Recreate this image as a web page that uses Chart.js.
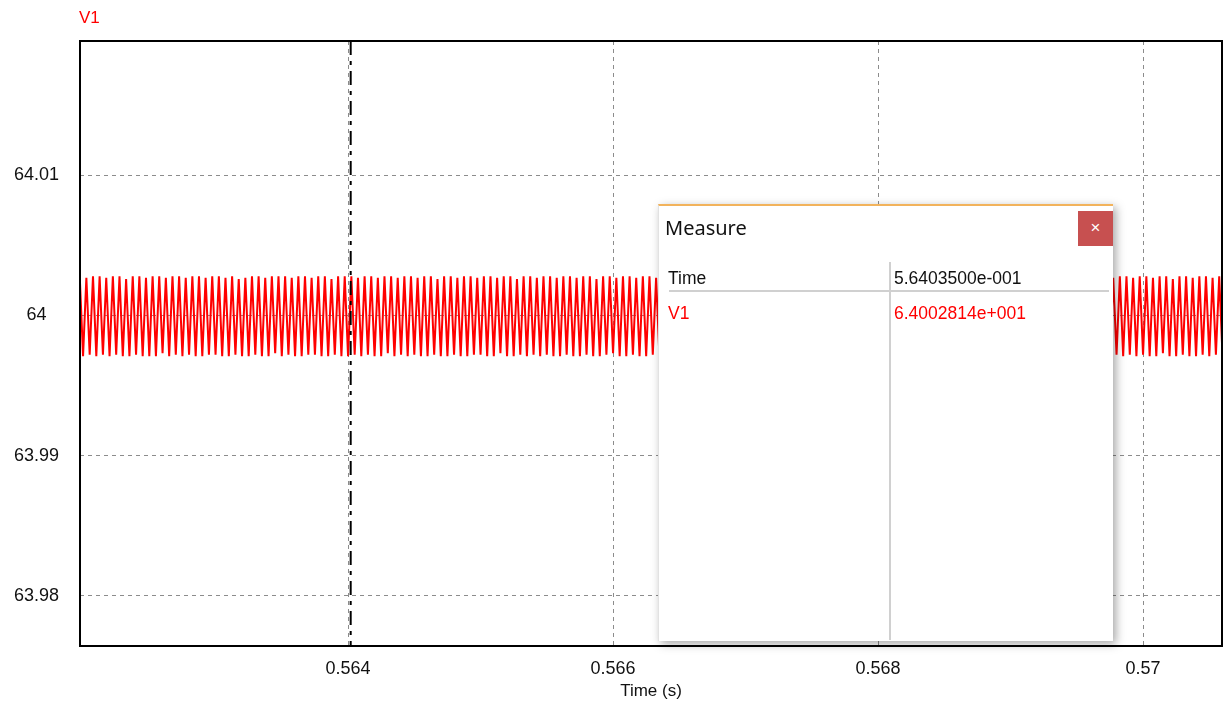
<!doctype html>
<html lang="en">

<head>
    <meta charset="utf-8">
    <title>V1 waveform</title>
    <style>
        body { margin: 0; background: #fff; }
        #container { position: relative; width: 1229px; height: 704px; }
        #measure { position: absolute; left: 658px; top: 204px; width: 455px; height: 437px; background: #fff;
            border-top: 2px solid #f2b35c; border-left: 1px solid #e2e2e2; box-sizing: border-box;
            box-shadow: 3px 3px 9px rgba(0, 0, 0, 0.35); font-family: "Liberation Sans", Arial, sans-serif; }
        #measure .title { position: absolute; left: 6px; top: 9px; line-height: 26px; font-family: "Noto Sans", sans-serif; font-size: 20px; color: #111; }
        #measure .close { position: absolute; left: 419px; top: 5px; width: 35px; height: 35px; background: #c75050; color: #fff;
            font-size: 17px; line-height: 34px; text-align: center; }
        #measure .cell { position: absolute; font-size: 17.5px; line-height: 20px; color: #111; white-space: nowrap; }
        #measure .red { color: #ff0000; }
        #measure .hsep { position: absolute; left: 10px; top: 84px; width: 440px; height: 2px; background: #d0d0d0; }
        #measure .vsep { position: absolute; left: 230px; top: 56px; width: 2px; height: 378px; background: #d0d0d0; }
    </style>
</head>

<body>
    <div id="container">
        <canvas id="chart"></canvas>
        <div id="measure">
            <div class="title">Measure</div>
            <div class="close">×</div>
            <div class="vsep"></div>
            <div class="cell" style="left:9px;top:62px">Time</div>
            <div class="cell" id="mTime" style="left:235px;top:62px"></div>
            <div class="hsep"></div>
            <div class="cell red" style="left:9px;top:97px">V1</div>
            <div class="cell red" id="mValue" style="left:235px;top:97px"></div>
        </div>
    </div>

    <script src="https://cdn.jsdelivr.net/npm/chart.js@4/dist/chart.umd.min.js"></script>
    <script>
        const SERIES_NAME = "V1";
        const X_TICKS = [0.564, 0.566, 0.568, 0.57];
        const Y_TICKS = [63.98, 63.99, 64, 64.01];
        const X_RANGE = [0.561977, 0.570596];
        const Y_RANGE = [63.9764, 64.0196];
        const CURSOR_T = 0.564035;
        const CURSOR_TEXT = ["5.6403500e-001", "6.4002814e+001"];
        // sample time base of the V1 trace (s)
        const T_START = 0.561975;
        const T_STEP = 0.000025;
        // V1 samples (V), ripple peaks
        const V1 = [
            64.0028, 63.9971, 64.0027, 63.9972, 64.0028, 63.9971, 64.0028, 63.9972, 64.0027, 63.9971,
            64.0028, 63.9972, 64.0028, 63.9971, 64.0026, 63.9971, 64.0028, 63.9972, 64.0028, 63.9971,
            64.0027, 63.9971, 64.0028, 63.9971, 64.0028, 63.9973, 64.0027, 63.9971, 64.0028, 63.9972,
            64.0028, 63.9971, 64.0027, 63.9972, 64.0028, 63.9971, 64.0028, 63.9971, 64.0027, 63.9972,
            64.0028, 63.9972, 64.0028, 63.9971, 64.0027, 63.9971, 64.0028, 63.9972, 64.0026, 63.9971,
            64.0027, 63.9971, 64.0028, 63.9972, 64.0028, 63.9971, 64.0027, 63.9971, 64.0028, 63.9973,
            64.0028, 63.9971, 64.0028, 63.9972, 64.0027, 63.9971, 64.0028, 63.9971, 64.0028, 63.9972,
            64.0027, 63.9972, 64.0028, 63.9971, 64.0028, 63.9971, 64.0026, 63.9972, 64.0028, 63.9971,
            64.0028, 63.9971, 64.0028, 63.9972, 64.0027, 63.9971, 64.0028, 63.9972, 64.0028, 63.9971,
            64.0027, 63.9971, 64.0028, 63.9973, 64.0028, 63.9971, 64.0027, 63.9972, 64.0028, 63.9971,
            64.0028, 63.9972, 64.0027, 63.9971, 64.0028, 63.9971, 64.0028, 63.9972, 64.0026, 63.9971,
            64.0028, 63.9971, 64.0028, 63.9972, 64.0027, 63.9971, 64.0028, 63.9971, 64.0028, 63.9972,
            64.0027, 63.9972, 64.0028, 63.9971, 64.0028, 63.9971, 64.0027, 63.9973, 64.0028, 63.9971,
            64.0028, 63.9971, 64.0026, 63.9972, 64.0028, 63.9971, 64.0028, 63.9972, 64.0027, 63.9971,
            64.0028, 63.9972, 64.0028, 63.9971, 64.0027, 63.9971, 64.0028, 63.9972, 64.0028, 63.9971,
            64.0027, 63.9971, 64.0028, 63.9972, 64.0028, 63.9971, 64.0026, 63.9971, 64.0028, 63.9972,
            64.0028, 63.9973, 64.0027, 63.9971, 64.0028, 63.9971, 64.0028, 63.9972, 64.0027, 63.9971,
            64.0028, 63.9971, 64.0028, 63.9972, 64.0027, 63.9971, 64.0028, 63.9971, 64.0028, 63.9972,
            64.0027, 63.9972, 64.0028, 63.9971, 64.0026, 63.9971, 64.0028, 63.9972, 64.0028, 63.9971,
            64.0028, 63.9971, 64.0027, 63.9972, 64.0028, 63.9971, 64.0028, 63.9973, 64.0027, 63.9971,
            64.0028, 63.9972, 64.0028, 63.9971, 64.0027, 63.9971, 64.0028, 63.9972, 64.0028, 63.9971,
            64.0026, 63.9971, 64.0028, 63.9972, 64.0028, 63.9971, 64.0027, 63.9971, 64.0028, 63.9972,
            64.0028, 63.9971, 64.0027, 63.9971, 64.0028, 63.9972, 64.0028, 63.9971, 64.0027, 63.9973,
            64.0028, 63.9971, 64.0028, 63.9972, 64.0026, 63.9971, 64.0028, 63.9971, 64.0028, 63.9972,
            64.0027, 63.9972, 64.0028, 63.9971, 64.0028, 63.9971, 64.0027, 63.9972, 64.0028, 63.9971,
            64.0028, 63.9971, 64.0027, 63.9972, 64.0028, 63.9971, 64.0028, 63.9972, 64.0026, 63.9971,
            64.0028, 63.9973, 64.0028, 63.9971, 64.0027, 63.9971, 64.0028, 63.9972, 64.0028, 63.9971,
            64.0027, 63.9971, 64.0028, 63.9972, 64.0028, 63.9971, 64.0027, 63.9971, 64.0028, 63.9972,
            64.0028, 63.9972, 64.0026, 63.9971, 64.0028, 63.9971, 64.0028, 63.9972, 64.0027, 63.9971,
            64.0028, 63.9971, 64.0028, 63.9972, 64.0027, 63.9973, 64.0028, 63.9971, 64.0028, 63.9971,
            64.0027, 63.9972, 64.0028, 63.9971, 64.0028, 63.9971, 64.0026, 63.9972, 64.0028, 63.9971,
            64.0028, 63.9971, 64.0027, 63.9972, 64.0028, 63.9971, 64.0028, 63.9972, 64.0027, 63.9971,
            64.0028, 63.9972, 64.0028, 63.9971, 64.0027, 63.9971, 64.0028, 63.9973, 64.0028, 63.9971,
            64.0026, 63.9971, 64.0028, 63.9972, 64.0028, 63.9971, 64.0027, 63.9971, 64.0028, 63.9972,
            64.0028, 63.9971, 64.0027, 63.9972, 64.0028, 63.9971
        ];

        document.getElementById("mTime").textContent = CURSOR_TEXT[0];
        document.getElementById("mValue").textContent = CURSOR_TEXT[1];

        const points = V1.map((v, i) => ({ x: T_START + i * T_STEP, y: v }));

        const framePlugin = {
            id: "frame",
            afterDatasetsDraw(chart) {
                const { ctx, chartArea: a, scales } = chart;
                const cx = scales.x.getPixelForValue(CURSOR_T) - 2;
                ctx.save();
                ctx.strokeStyle = "#000";
                ctx.lineWidth = 2;
                ctx.setLineDash([14, 6, 4, 6]);
                ctx.beginPath();
                ctx.moveTo(cx, a.top);
                ctx.lineTo(cx, a.bottom);
                ctx.stroke();
                ctx.setLineDash([]);
                ctx.lineWidth = 2;
                ctx.strokeRect(a.left, a.top, a.right - a.left, a.bottom - a.top);
                ctx.fillStyle = "#ff0000";
                ctx.font = "17px 'Liberation Sans', Arial, sans-serif";
                ctx.textBaseline = "middle";
                ctx.fillText(SERIES_NAME, a.left - 1, 18);
                ctx.restore();
            }
        };

        Chart.defaults.font.family = "'Liberation Sans', Arial, sans-serif";
        Chart.defaults.font.size = 18;
        Chart.defaults.color = "#111";

        const chart = new Chart("chart", {
            type: "line",
            data: {
                datasets: [{
                    label: SERIES_NAME,
                    data: points,
                    borderColor: "#ff0000",
                    borderWidth: 2,
                    pointRadius: 0,
                    tension: 0
                }]
            },
            options: {
                responsive: true,
                maintainAspectRatio: false,
                animation: false,
                layout: { padding: { top: 41, right: 7, left: 0, bottom: 0 } },
                scales: {
                    x: {
                        type: "linear",
                        min: X_RANGE[0],
                        max: X_RANGE[1],
                        afterBuildTicks: s => { s.ticks = X_TICKS.map(v => ({ value: v })); },
                        afterFit: s => { s.height = 58; },
                        grid: { color: "#8c8c8c", lineWidth: 1, drawTicks: false },
                        border: { display: false, dash: [4, 4] },
                        ticks: { padding: 12, maxRotation: 0, autoSkip: false, callback: v => String(v) },
                        title: { display: true, text: "Time (s)", font: { size: 17 }, padding: { top: 0, bottom: 2 } }
                    },
                    y: {
                        min: Y_RANGE[0],
                        max: Y_RANGE[1],
                        afterBuildTicks: s => { s.ticks = Y_TICKS.map(v => ({ value: v })); },
                        afterFit: s => { s.width = 80; },
                        grid: { color: "#8c8c8c", lineWidth: 1, drawTicks: false },
                        border: { display: false, dash: [4, 4] },
                        ticks: { padding: 21, crossAlign: "center", autoSkip: false, callback: v => String(v) }
                    }
                },
                plugins: {
                    legend: { display: false },
                    tooltip: { enabled: false }
                }
            },
            plugins: [framePlugin]
        });
    </script>
</body>

</html>
